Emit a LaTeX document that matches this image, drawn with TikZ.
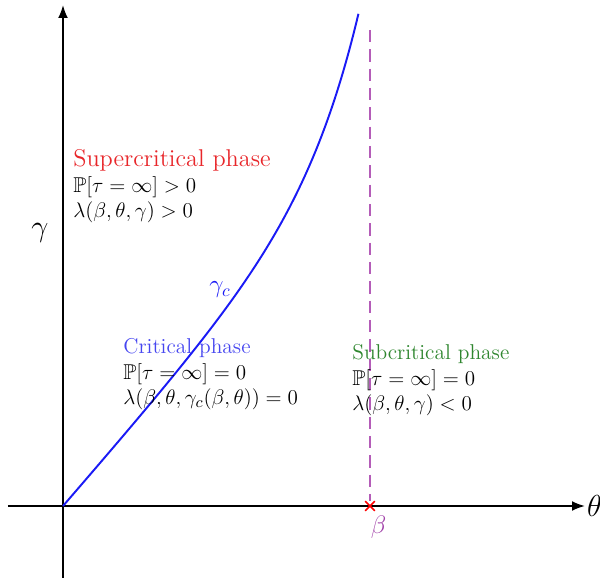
\documentclass[tikz,border=0pt]{standalone}
\usepackage{amsmath,amssymb}
\usepackage{xcolor}
\usepackage{tikz}
\usetikzlibrary{positioning,arrows.meta,shapes.misc}
\definecolor{phaseRed}{HTML}{E8262A}
\definecolor{phaseBlue}{HTML}{4646F0}
\definecolor{phaseGreen}{HTML}{2E862E}
\definecolor{curveBlue}{HTML}{1A1AF5}
\definecolor{dashViolet}{HTML}{B45CB8}
\definecolor{betaViolet}{HTML}{A040A8}

\begin{document}
\begin{tikzpicture}[
  x=1cm,
  y=1cm,
  axis/.style={-{Latex[length=2.6mm,width=2.0mm]}, line width=1.1pt, draw=black},
  curve/.style={line width=1.1pt, draw=curveBlue},
  critline/.style={line width=0.85pt, draw=dashViolet, dash pattern=on 7pt off 4pt},
  crossmark/.style={cross out, draw=red, line width=0.9pt, minimum size=1.6mm, inner sep=0pt},
  phasetext/.style={anchor=north west, align=left, inner sep=0pt,
    font=\fontsize{12.2}{14.6}\selectfont},
  axislabel/.style={font=\fontsize{16}{18}\selectfont}
]
\useasboundingbox (-1.26,-1.46) rectangle (10.74,10.12);

\coordinate (O) at (0,0);
\coordinate (xmin) at (-1.1,0);
\coordinate (xmax) at (10.44,0);
\coordinate (ymin) at (0,-1.44);
\coordinate (ymax) at (0,10.02);
\coordinate (dashtop) at (6.14,9.52);

\draw[axis] (xmin) -- (xmax);
\draw[axis] (ymin) -- (ymax);
\node[axislabel, anchor=west, inner sep=1pt] (thetalab) at (xmax) {$\theta$};
\node[axislabel] (gammalab) at (-0.46,5.46) {$\gamma$};

\node[crossmark] (beta) at (6.14,0) {};
\node[font=\fontsize{14}{16}\selectfont, text=betaViolet, below right=-0.02cm and -0.2cm of beta] (betalab) {$\beta$};
\draw[critline] (dashtop) -- (beta);

\draw[curve] plot[domain=0:5.91, samples=120] (\x, {1.15*\x+0.0083*(exp(\x)-1)});
\node[font=\fontsize{14}{16}\selectfont, text=curveBlue] (gammac) at (3.14,4.32) {$\gamma_c$};

\node[phasetext] (super) at (0.2,7.14) {\textcolor{phaseRed}{\fontsize{13.8}{14.6}\selectfont Supercritical phase}\\
  $\mathbb{P}[\tau=\infty]>0$\\
  $\lambda(\beta,\theta,\gamma)>0$};
\node[phasetext] (crit) at (1.2,3.36) {\textcolor{phaseBlue}{Critical phase}\\
  $\mathbb{P}[\tau=\infty]=0$\\
  $\lambda(\beta,\theta,\gamma_c(\beta,\theta))=0$};
\node[phasetext] (sub) at (5.78,3.24) {\textcolor{phaseGreen}{Subcritical phase}\\
  $\mathbb{P}[\tau=\infty]=0$\\
  $\lambda(\beta,\theta,\gamma)<0$};
\end{tikzpicture}
\end{document}
